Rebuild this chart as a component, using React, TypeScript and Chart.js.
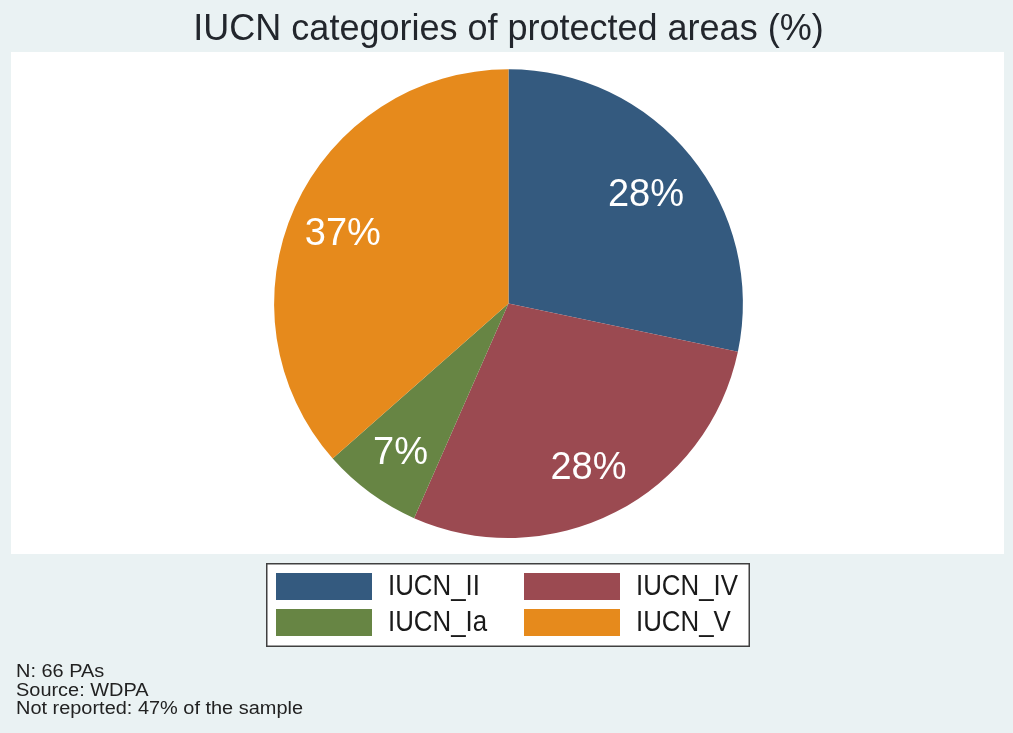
import { useEffect, useRef } from 'react';
import { Chart, registerables } from 'chart.js';

Chart.register(...registerables);

// ---- data ----
const categories = ['IUCN_II', 'IUCN_IV', 'IUCN_Ia', 'IUCN_V'];
const shares = [28.3, 28.3, 6.9, 36.5];
const sliceColors = ['#345a7f', '#9b4a51', '#678544', '#e68a1c'];
const titleText = 'IUCN categories of protected areas (%)';
const noteLines = ['N: 66 PAs', 'Source: WDPA', 'Not reported: 47% of the sample'];

const W = 1013;
const H = 733;
const FONT = "'Liberation Sans', Arial, Helvetica, sans-serif";

const framePlugin = {
  id: 'frame',
  beforeDraw(chart: any) {
    const ctx = chart.ctx;
    ctx.save();
    ctx.fillStyle = '#eaf2f3';
    ctx.fillRect(0, 0, chart.width, chart.height);
    ctx.fillStyle = '#ffffff';
    ctx.fillRect(11, 52, 993, 502);
    ctx.restore();
  },
};

const sliceLabelPlugin = {
  id: 'sliceLabels',
  afterDatasetsDraw(chart: any) {
    const ctx = chart.ctx;
    const meta = chart.getDatasetMeta(0);
    const values = chart.data.datasets[0].data as number[];
    ctx.save();
    ctx.fillStyle = '#ffffff';
    ctx.font = `38px ${FONT}`;
    ctx.textAlign = 'center';
    ctx.textBaseline = 'alphabetic';
    meta.data.forEach((arc: any, i: number) => {
      const p = arc.getProps(['x', 'y', 'startAngle', 'endAngle', 'outerRadius'], true);
      const mid = (p.startAngle + p.endAngle) / 2;
      const r = p.outerRadius * 0.766;
      const cx = p.x + Math.cos(mid) * r - 2;
      const cy = p.y + Math.sin(mid) * r + 2;
      ctx.fillText(`${Math.round(values[i])}%`, cx, cy + 13.6);
    });
    ctx.restore();
  },
};

const legendNotePlugin = {
  id: 'legendNote',
  afterDraw(chart: any) {
    const ctx = chart.ctx;
    const labels = chart.data.labels as string[];
    const colors = chart.data.datasets[0].backgroundColor as string[];
    ctx.save();
    // legend box
    ctx.fillStyle = '#ffffff';
    ctx.fillRect(266, 563, 484, 84);
    ctx.strokeStyle = '#404040';
    ctx.lineWidth = 1.5;
    ctx.strokeRect(266.75, 563.75, 482.5, 82.5);
    const colX = [276, 524];
    const rowY = [573, 609];
    ctx.font = `29px ${FONT}`;
    const sx = 102 / ctx.measureText('IUCN_IV').width;
    ctx.textBaseline = 'middle';
    ctx.textAlign = 'left';
    labels.forEach((lab, i) => {
      const x = colX[i % 2];
      const y = rowY[Math.floor(i / 2)];
      ctx.fillStyle = colors[i];
      ctx.fillRect(x, y, 96, 27);
      ctx.fillStyle = '#1a1a1a';
      ctx.save();
      ctx.translate(x + 112, y + 14);
      ctx.scale(sx, 1);
      ctx.fillText(lab, 0, 0);
      ctx.restore();
    });
    // footnote
    ctx.font = `17.5px ${FONT}`;
    ctx.textBaseline = 'alphabetic';
    const nx = 287 / ctx.measureText(noteLines[2]).width;
    ctx.fillStyle = '#222222';
    noteLines.forEach((line, i) => {
      ctx.save();
      ctx.translate(16, 677 + i * 18.7);
      ctx.scale(nx, 1);
      ctx.fillText(line, 0, 0);
      ctx.restore();
    });
    ctx.restore();
  },
};

export default function App() {
  const ref = useRef<HTMLCanvasElement>(null);
  useEffect(() => {
    document.body.style.margin = '0';
    const canvas = ref.current;
    if (!canvas) return;
    const chart = new Chart(canvas, {
      type: 'pie',
      data: {
        labels: categories,
        datasets: [
          {
            data: shares,
            backgroundColor: sliceColors,
            borderWidth: 0,
          },
        ],
      },
      options: {
        responsive: false,
        animation: false,
        events: [],
        layout: { padding: { left: 4, right: 0, top: 0, bottom: 195 } },
        plugins: {
          legend: { display: false },
          tooltip: { enabled: false },
          title: {
            display: true,
            text: titleText,
            color: '#22262c',
            font: { size: 36, family: FONT, weight: 'normal' },
            padding: { top: 8, bottom: 18 },
          },
        },
      },
      plugins: [framePlugin, sliceLabelPlugin, legendNotePlugin],
    });
    return () => chart.destroy();
  }, []);
  return (
    <div style={{ width: W, height: H }}>
      <canvas ref={ref} width={W} height={H} style={{ display: 'block', width: W, height: H }} />
    </div>
  );
}
